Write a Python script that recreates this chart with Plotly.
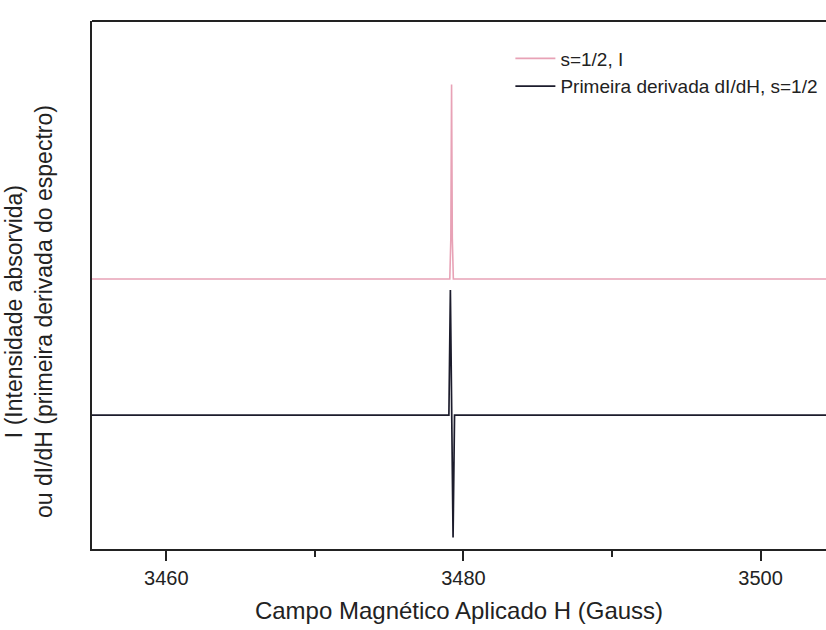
import plotly.graph_objects as go

# Field (Gauss) and signal values
field_abs = [3455.0, 3479.08, 3479.15, 3479.20, 3479.25, 3479.32, 3504.4]
intensity = [1.0, 1.0, 1.3, 2.43, 1.3, 1.0, 1.0]

field_der = [3455.0, 3479.02, 3479.12, 3479.20, 3479.30, 3479.40, 3504.4]
derivative = [0.0, 0.0, 0.92, 0.0, -0.90, 0.0, 0.0]

names = ["s=1/2, I", "Primeira derivada dI/dH, s=1/2"]
tick_vals = [3460, 3480, 3500]
y_title = "I (Intensidade absorvida)<br>ou dI/dH (primeira derivada do espectro)"

fig = go.Figure()
fig.add_trace(go.Scatter(x=field_abs, y=intensity, mode="lines", name=names[0],
                         line=dict(color="#e8a2b6", width=1.6)))
fig.add_trace(go.Scatter(x=field_der, y=derivative, mode="lines", name=names[1],
                         line=dict(color="#1c1c2c", width=1.7)))

fig.update_layout(
    width=826, height=630,
    margin=dict(l=92, r=0, t=21, b=81),
    paper_bgcolor="white", plot_bgcolor="white",
    font=dict(family="Liberation Sans, Arial, sans-serif", color="#222", size=20),
    showlegend=True,
    legend=dict(x=0.57, y=0.965, xanchor="left", yanchor="top",
                bgcolor="rgba(0,0,0,0)", font=dict(size=19),
                tracegroupgap=0, itemwidth=40),
    xaxis=dict(range=[3455.0, 3504.4], tickvals=tick_vals, ticktext=[str(v) for v in tick_vals],
               ticks="outside", ticklen=10, tickwidth=2, tickcolor="#222",
               minor=dict(dtick=10, tick0=3460, ticks="outside", ticklen=6, tickwidth=2, tickcolor="#222"),
               showline=True, linecolor="#222", linewidth=2, showgrid=False, zeroline=False,
               title=dict(text="Campo Magnético Aplicado H (Gauss)", standoff=14)),
    yaxis=dict(range=[-0.985, 2.897], showticklabels=False, ticks="",
               showline=True, linecolor="#222", linewidth=2, showgrid=False, zeroline=False),
    annotations=[dict(text=y_title, xref="paper", yref="paper", x=-0.085, y=0.45,
                      xanchor="center", yanchor="middle", textangle=-90, showarrow=False,
                      font=dict(size=23, color="#222"))],
    shapes=[dict(type="line", xref="paper", yref="paper", x0=0, x1=1, y0=1, y1=1,
                 line=dict(color="#222", width=2))],
)

fig.write_html("out.html")
